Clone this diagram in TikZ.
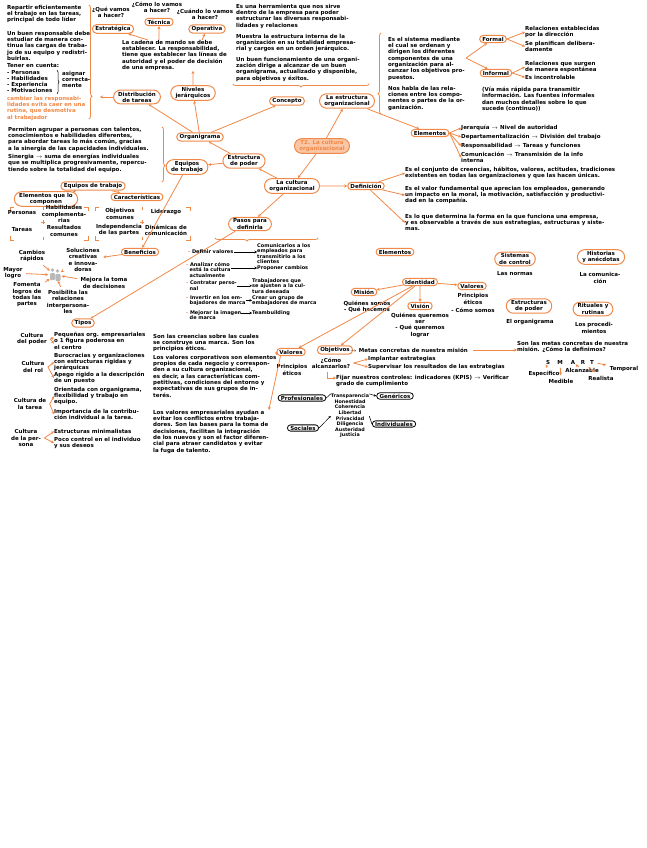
\documentclass[tikz,border=0pt]{standalone}
\usepackage{fontspec}
\setmainfont{DejaVu Sans}
\usetikzlibrary{shapes.misc,arrows.meta,decorations.pathreplacing}

\definecolor{naranja}{RGB}{240,137,72}
\definecolor{salmon}{RGB}{250,198,165}

\tikzset{
  burbuja/.style={draw=naranja, line width=1pt, rounded rectangle, inner xsep=2pt, inner ysep=1.5pt, align=center},
  burbujanegra/.style={draw=black, line width=0.8pt, rounded rectangle, inner xsep=2pt, inner ysep=1pt},
  texto/.style={anchor=north west, align=left, inner sep=0pt},
  flecha/.style={draw=naranja, line width=0.8pt, -{Stealth[length=3pt,width=3pt]}},
  flechanegra/.style={draw=black, line width=0.5pt, -{Stealth[length=2.5pt,width=2.5pt]}},
  llave/.style={draw=naranja, line width=0.8pt, decorate, decoration={brace, amplitude=3pt}},
  marca/.style={draw=naranja, line width=0.8pt},
}

\begin{document}
\begin{tikzpicture}[x=1pt,y=-1pt,font=\bfseries\fontsize{5.5}{6.3}\selectfont]

\useasboundingbox (0,0) rectangle (646,848);

% tareas y niveles
\node[texto] (reparto) at (7,5) {Repartir eficientemente\\el trabajo en las tareas,\\principal de todo líder};
\node[texto] (carga) at (7,31) {Un buen responsable debe\\estudiar de manera con-\\tinua las cargas de traba-\\jo de su equipo y redistri-\\buirlas.};
\node[texto] (cuenta) at (7,63.5) {Tener en cuenta:\\- Personas\\- Habilidades\\- Experiencia\\- Motivaciones};
\draw[decorate, decoration={brace, amplitude=2pt}, line width=0.5pt] (57,70) -- (57,94);
\node[texto] (asignar) at (62,71) {asignar\\correcta-\\mente};
\node[texto, text=naranja] (rutina) at (7,96) {cambiar las responsabi-\\lidades evita caer en una\\rutina, que desmotiva\\al trabajador};
\draw[llave, decoration={aspect=0.8}] (89,5) -- (89,119);

\node[anchor=north, align=center, inner sep=0pt] (quehacer) at (111,7) {¿Qué vamos\\a hacer?};
\node[burbuja] (estrategica) at (113,29) {Estratégica};
\node[anchor=north, align=center, inner sep=0pt] (comohacer) at (157,2) {¿Cómo lo vamos\\a hacer?};
\node[burbuja] (tecnica) at (159,22) {Técnica};
\node[anchor=north, align=center, inner sep=0pt] (cuandohacer) at (205,9) {¿Cuándo lo vamos\\a hacer?};
\node[burbuja] (operativa) at (207,29) {Operativa};
\node[texto] (cadena) at (122,40) {La cadena de mando se debe\\establecer. La responsabilidad,\\tiene que establecer las líneas de\\autoridad y el poder de decisión\\de una empresa.};

\node[burbuja] (distribucion) at (137,97) {Distribución\\de tareas};
\node[burbuja] (niveles) at (193,93) {Niveles\\jerárquicos};

\draw[flecha] (cadena.north west) ++(26,0) -- (estrategica);
\draw[flecha] (cadena.north west) ++(37,0) -- (tecnica);
\draw[flecha] (cadena.north west) ++(80,0) -- (operativa);
\draw[flecha] (niveles) -- (niveles |- cadena.south);
\draw[flecha] (distribucion) -- (100,97);

% concepto
\node[texto] (herramienta) at (236,4) {Es una herramienta que nos sirve\\dentro de la empresa para poder\\estructurar las diversas responsabi-\\lidades y relaciones};
\node[texto] (muestra) at (236,34) {Muestra la estructura interna de la\\organización en su totalidad empresa-\\rial y cargos en un orden jerárquico.};
\node[texto] (funcionamiento) at (236,57) {Un buen funcionamiento de una organi-\\zación dirige a alcanzar de un buen\\organigrama, actualizado y disponible,\\para objetivos y éxitos.};
\draw[llave, decoration={aspect=0.5}] (369,84) -- (233,84);

\node[burbuja] (concepto) at (287,101) {Concepto};
\node[burbuja] (estructura) at (347,101) {La estructura\\organizacional};

\draw[llave, decoration={aspect=0.25}] (381,114) -- (381,33);
\node[texto] (sistema) at (388,37) {Es el sistema mediante\\el cual se ordenan y\\dirigen los diferentes\\componentes de una\\organización para al-\\canzar los objetivos pro-\\puestos.};
\node[texto] (relaciones) at (388,86) {Nos habla de las rela-\\ciones entre los compo-\\nentes o partes de la or-\\ganización.};

\coordinate (ramal) at (466,58);
\node[burbuja] (formal) at (493,39) {Formal};
\node[burbuja] (informal) at (496,73) {Informal};
\draw[flecha] (ramal) -- (formal);
\draw[flecha] (ramal) -- (informal);
\node[texto] (establecidas) at (525,26) {Relaciones establecidas\\por la dirección};
\node[texto] (planifican) at (525,41) {Se planifican delibera-\\damente};
\node[texto] (espontaneas) at (525,61) {Relaciones que surgen\\de manera espontánea};
\node[texto] (incontrolable) at (525,75) {Es incontrolable};
\draw[flecha] (formal.east) -- (establecidas.west);
\draw[flecha] (formal.east) -- (planifican.west);
\draw[flecha] (informal.east) -- (espontaneas.west);
\draw[flecha] (informal.east) -- (incontrolable.west);
\node[texto] (via) at (482,87) {(Vía más rápida para transmitir\\información. Las fuentes informales\\dan muchos detalles sobre lo que\\sucede (continuo))};

\node[burbuja] (elementos) at (430,133) {Elementos};
\node[texto] (jerarquia) at (461,125) {Jerarquía $\rightarrow$ Nivel de autoridad};
\node[texto] (departamento) at (461,134) {Departamentalización $\rightarrow$ División del trabajo};
\node[texto] (responsabilidad) at (461,143) {Responsabilidad $\rightarrow$ Tareas y funciones};
\node[texto] (comunicacion) at (461,152) {Comunicación $\rightarrow$ Transmisión de la info\\interna};
\foreach \n in {jerarquia,departamento,responsabilidad,comunicacion}
  \draw[flecha] (elementos.east) -- (\n.west);

% centro
\node[burbuja, fill=salmon, text=naranja] (tema) at (322,146) {T2. La cultura\\organizacional};
\node[burbuja] (cultura) at (292,186) {La cultura\\organizacional};
\node[burbuja] (poder) at (244,161) {Estructura\\de poder};
\node[burbuja] (organigrama) at (200,137) {Organigrama};
\node[burbuja] (equipos) at (187,167) {Equipos\\de trabajo};
\node[burbuja] (pasos) at (250,224) {Pasos para\\definirla};
\node[burbuja] (definicion) at (366,186) {Definición};

\draw[flecha] (tema) -- (estructura);
\draw[flecha] (tema) -- (cultura);
\draw[flecha] (cultura) -- (poder);
\draw[flecha] (cultura) -- (definicion);
\draw[flecha] (cultura) -- (pasos);
\draw[flecha] (poder) -- (organigrama);
\draw[flecha] (poder) -- (equipos);
\draw[flecha] (organigrama) -- (concepto);
\draw[flecha] (organigrama) -- (distribucion);
\draw[flecha] (organigrama) -- (niveles);
\draw[flecha] (estructura) -- (elementos);

% definicion
\node[texto] (conjunto) at (405,167) {Es el conjunto de creencias, hábitos, valores, actitudes, tradiciones\\existentes en todas las organizaciones y que las hacen únicas.};
\node[texto] (valorfund) at (405,186) {Es el valor fundamental que aprecian los empleados, generando\\un impacto en la moral, la motivación, satisfacción y productivi-\\dad en la compañía.};
\node[texto] (determina) at (405,214) {Es lo que determina la forma en la que funciona una empresa,\\y es observable a través de sus estrategias, estructuras y siste-\\mas.};
\draw[flecha] (definicion) -- (conjunto.west);
\draw[flecha] (definicion) -- (valorfund.west);
\draw[flecha] (definicion) -- (determina.west);

% equipos de trabajo
\node[texto] (agrupar) at (8,127) {Permiten agrupar a personas con talentos,\\conocimientos e habilidades diferentes,\\para abordar tareas lo más común, gracias\\a la sinergia de las capacidades individuales.};
\node[texto] (sinergia) at (8,154) {Sinergia $\rightarrow$ suma de energías individuales\\que se multiplica progresivamente, repercu-\\tiendo sobre la totalidad del equipo.};
\draw[llave, decoration={aspect=0.7}] (162,127) -- (162,182);

\node[burbuja] (equiposlista) at (93,186) {Equipos de trabajo};
\node[burbuja] (componen) at (46,199) {Elementos que lo\\componen};
\node[burbuja] (caracteristicas) at (137,197) {Características};
\draw[flecha] (equiposlista) -- (componen);
\draw[flecha] (equiposlista) -- (caracteristicas);

\foreach \xa/\xb/\xm in {10/88/43, 95/190/142} {
  \draw[marca] (\xa,211) -- (\xa,207) -- ({\xa+4},207);
  \draw[marca] ({\xb-4},207) -- (\xb,207) -- (\xb,211);
  \draw[marca] (\xa,236) -- (\xa,240) -- ({\xa+4},240);
  \draw[marca] ({\xb-4},240) -- (\xb,240) -- (\xb,236);
  \draw[marca] ({\xm-2},222) -- ({\xm+2},222) (\xm,220) -- (\xm,224);
  \draw[marca] (\xm,207) -- (\xm,210) (\xm,240) -- (\xm,237);
}
\node (personas) at (22,213) {Personas};
\node[align=center] (habilidades) at (64,214) {Habilidades\\complementa-\\rias};
\node (tareas) at (22,230) {Tareas};
\node[align=center] (resultados) at (64,231) {Resultados\\comunes};
\node[align=center] (objetivoscom) at (120,214) {Objetivos\\comunes};
\node (liderazgo) at (166,212) {Liderazgo};
\node[align=center] (independencia) at (119,230) {Independencia\\de las partes};
\node[align=center] (dinamicas) at (166,230) {Dinámicas de\\comunicación};

% beneficios
\node[burbuja] (beneficios) at (140,252) {Beneficios};
\node[circle, minimum size=13pt, inner sep=0pt] (grupo) at (55,275) {};
\fill[gray!55] (52.5,270) circle[radius=1.8] (57.5,271) circle[radius=1.8];
\fill[gray!55, rounded corners=1pt] (50,273) rectangle (55,280) (55.5,274) rectangle (60.5,281);
\node[align=center] (cambios) at (32,256) {Cambios\\rápidos};
\node[align=center] (soluciones) at (83,260) {Soluciones\\creativas\\e innova-\\doras};
\node[align=center] (mayor) at (13,273) {Mayor\\logro};
\node[align=center] (decisiones) at (104,283) {Mejora la toma\\de decisiones};
\node[align=center] (fomenta) at (27,295) {Fomenta\\logros de\\todas las\\partes};
\node[align=center] (interpersonales) at (68,302) {Posibilita las\\relaciones\\interpersona-\\les};
\foreach \n in {cambios,soluciones,mayor,decisiones,fomenta,interpersonales}
  \draw[flecha] (\n) -- (grupo);
\draw[flecha] (equipos) -- (beneficios);
\draw[flecha] (beneficios) -- (soluciones);

% tipos
\node[burbuja] (tipos) at (83,323) {Tipos};
\draw[flecha] (pasos.south west) -- (tipos);

\node[align=center] (cpoder) at (32,339) {Cultura\\del poder};
\node[texto] (pequenas) at (54,332) {Pequeñas org. empresariales\\o 1 figura poderosa en\\el centro};
\node[align=center] (crol) at (33,367) {Cultura\\del rol};
\node[texto] (burocracias) at (54,353) {Burocracias y organizaciones\\con estructuras rígidas y\\jerárquicas};
\node[texto] (apego) at (54,372) {Apego rígido a la descripción\\de un puesto};
\node[align=center] (ctarea) at (30,404) {Cultura de\\la tarea};
\node[texto] (orientada) at (54,387) {Orientada con organigrama,\\flexibilidad y trabajo en\\equipo.};
\node[texto] (importancia) at (54,409) {Importancia de la contribu-\\ción individual a la tarea.};
\node[align=center] (cpersona) at (26,438) {Cultura\\de la per-\\sona};
\node[texto] (minimal) at (54,429) {Estructuras minimalistas};
\node[texto] (control) at (54,437) {Poco control en el individuo\\y sus deseos};
\draw[flecha] (cpoder.east) -- ([yshift=3pt]pequenas.west);
\draw[flecha] (cpoder.east) -- ([yshift=-3pt]pequenas.west);
\draw[flecha] (crol.east) -- (burocracias.west);
\draw[flecha] (crol.east) -- (apego.west);
\draw[flecha] (ctarea.east) -- (orientada.west);
\draw[flecha] (ctarea.east) -- (importancia.west);
\draw[flecha] (cpersona.east) -- (minimal.west);
\draw[flecha] (cpersona.east) -- (control.west);

% pasos
\draw[llave, decoration={aspect=0.69}] (318,238) -- (215,238);
\begin{scope}[font=\bfseries\fontsize{5}{5.5}\selectfont]
\node[texto, anchor=west] (definir) at (188,252) {{\color{naranja}-} Definir valores};
\node[texto] (comunicarlos) at (257,243) {Comunicarlos a los\\empleados para\\transmitirlo a los\\clientes};
\node[texto] (analizar) at (186,262) {{\color{naranja}-} Analizar cómo\\\ \ está la cultura\\\ \ actualmente};
\node[texto, anchor=west] (proponer) at (257,268) {Proponer cambios};
\node[texto] (contratar) at (186,281) {{\color{naranja}-} Contratar perso-\\\ \ nal};
\node[texto] (trabajadores) at (252,278) {Trabajadores que\\se ajusten a la cul-\\tura deseada};
\node[texto] (invertir) at (186,295) {{\color{naranja}-} Invertir en los em-\\\ \ bajadores de marca};
\node[texto] (crear) at (252,295) {Crear un grupo de\\embajadores de marca};
\node[texto] (mejorar) at (186,310) {{\color{naranja}-} Mejorar la imagen\\\ \ de marca};
\node[texto, anchor=west] (teambuilding) at (252,313) {Teambuilding};
\end{scope}
\draw[flechanegra] (definir.east) -- (comunicarlos.west |- definir.east);
\draw[flechanegra] (analizar.east |- proponer.west) -- (proponer.west);
\draw[flechanegra] (contratar.east) -- (trabajadores.west |- contratar.east);
\draw[flechanegra] (invertir.east) -- (crear.west |- invertir.east);
\draw[flechanegra] (mejorar.north east) ++(0,3) -- (teambuilding.west);

% valores
\node[texto] (creencias) at (153,334) {Son las creencias sobre las cuales\\se construye una marca. Son los\\principios éticos.};
\node[texto] (corporativos) at (153,355) {Los valores corporativos son elementos\\propios de cada negocio y correspon-\\den a su cultura organizacional,\\es decir, a las características com-\\petitivas, condiciones del entorno y\\expectativas de sus grupos de in-\\terés.};
\node[texto] (empresariales) at (153,410) {Los valores empresariales ayudan a\\evitar los conflictos entre trabaja-\\dores. Son las bases para la toma de\\decisiones, facilitan la integración\\de los nuevos y son el factor diferen-\\cial para atraer candidatos y evitar\\la fuga de talento.};

\node[burbuja] (valores) at (291,352) {Valores};
\node[align=center] (eticos) at (292,370) {Principios\\éticos};
\draw[flecha] (valores.west) -- (corporativos.north east);
\draw[flecha] (valores.south west) -- (empresariales.north east);

% elementos de la cultura
\node[burbuja] (elementos2) at (395,252) {Elementos};
\node[burbuja] (sistemas) at (515,259) {Sistemas\\de control};
\node (normas) at (515,274) {Las normas};
\node[burbuja] (historias) at (601,257) {Historias\\y anécdotas};
\node[align=center] (lacomunicacion) at (600,278) {La comunica-\\ción};
\node[burbuja] (estpoder) at (529,306) {Estructuras\\de poder};
\node (elorganigrama) at (530,322) {El organigrama};
\node[burbuja] (rituales) at (593,309) {Rituales y\\rutinas};
\node[align=center] (procedimientos) at (594,328) {Los procedi-\\mientos};

\node[burbuja] (identidad) at (420,282) {Identidad};
\node[burbuja] (mision) at (364,292) {Misión};
\node[align=center] (quienes) at (367,307) {Quiénes somos\\- Qué hacemos};
\node[burbuja] (vision) at (420,306) {Visión};
\node[align=center] (queremos) at (420,325) {Quiénes queremos\\ser\\- Qué queremos\\lograr};
\node[burbuja] (valoresident) at (472,286) {Valores};
\node[align=center] (principios) at (473,303) {Principios\\éticos\\[2pt]- Cómo somos};
\draw[flecha] (identidad) -- (mision);
\draw[flecha] (identidad) -- (vision);
\draw[flecha] (identidad) -- (valoresident);

% objetivos
\node[burbuja] (objetivos) at (335,350) {Objetivos};
\draw[flecha] (identidad) -- (valores);
\draw[flecha] (identidad) -- (objetivos);
\node[texto, anchor=west] (metas) at (350,350) {$\rightarrow$ Metas concretas de nuestra misión};
\node[texto] (smartdef) at (517,341) {Son las metas concretas de nuestra\\misión. ¿Cómo la definimos?};
\draw[flecha] (metas.east) ++(5,0) -- (smartdef.west |- metas.east);

\node (letraS) at (548,362) {S};
\node (letraM) at (560,362) {M};
\node (letraA) at (573,362) {A};
\node (letraR) at (583,362) {R};
\node (letraT) at (592,362) {T};
\node (especifico) at (544,374) {Específico};
\node (medible) at (561,381) {Medible};
\node (alcanzable) at (582,370) {Alcanzable};
\node (realista) at (601,378) {Realista};
\node (temporal) at (624,369) {Temporal};
\draw[flecha] (letraS) -- (especifico);
\draw[flecha] (letraM) -- (medible);
\draw[flecha] (letraA) -- (alcanzable);
\draw[flecha] (letraR) -- (realista);
\draw[flecha] (letraT) -- (temporal);

\node[align=center] (alcanzarlos) at (331,363) {¿Cómo\\alcanzarlos?};
\node[texto, anchor=west] (implantar) at (368,359) {Implantar estrategias};
\node[texto, anchor=west] (supervisar) at (368,367) {Supervisar los resultados de las estrategias};
\draw[flecha] (alcanzarlos.east) -- (implantar.west);
\draw[flecha] (alcanzarlos.east) -- (supervisar.west);
\node[texto] (fijar) at (336,375) {Fijar nuestros controles: indicadores (KPIS) $\rightarrow$ Verificar\\grado de cumplimiento};
\draw[flecha] (alcanzarlos.south) ++(-4,0) |- (fijar.west |- 0,378);

% tipos de valores
\node[burbujanegra] (profesionales) at (302,398) {Profesionales};
\node[burbujanegra] (sociales) at (303,428) {Sociales};
\node[burbujanegra] (genericos) at (395,396) {Genéricos};
\node[burbujanegra] (individuales) at (394,424) {Individuales};
\node[align=center, font=\bfseries\fontsize{4.8}{5.6}\selectfont, inner sep=0pt] (lista) at (350,416) {Transparencia\\Honestidad\\Coherencia\\Libertad\\Privacidad\\Diligencia\\Austeridad\\Justicia};
\draw[flechanegra, -] (profesionales.east) -- (lista.north west);
\draw[flechanegra] (sociales.east) -- (lista.west);
\draw[flechanegra] (lista.north east) -- (genericos.west);
\draw[flechanegra, -] (lista.east) -- (individuales.west);

\end{tikzpicture}
\end{document}
